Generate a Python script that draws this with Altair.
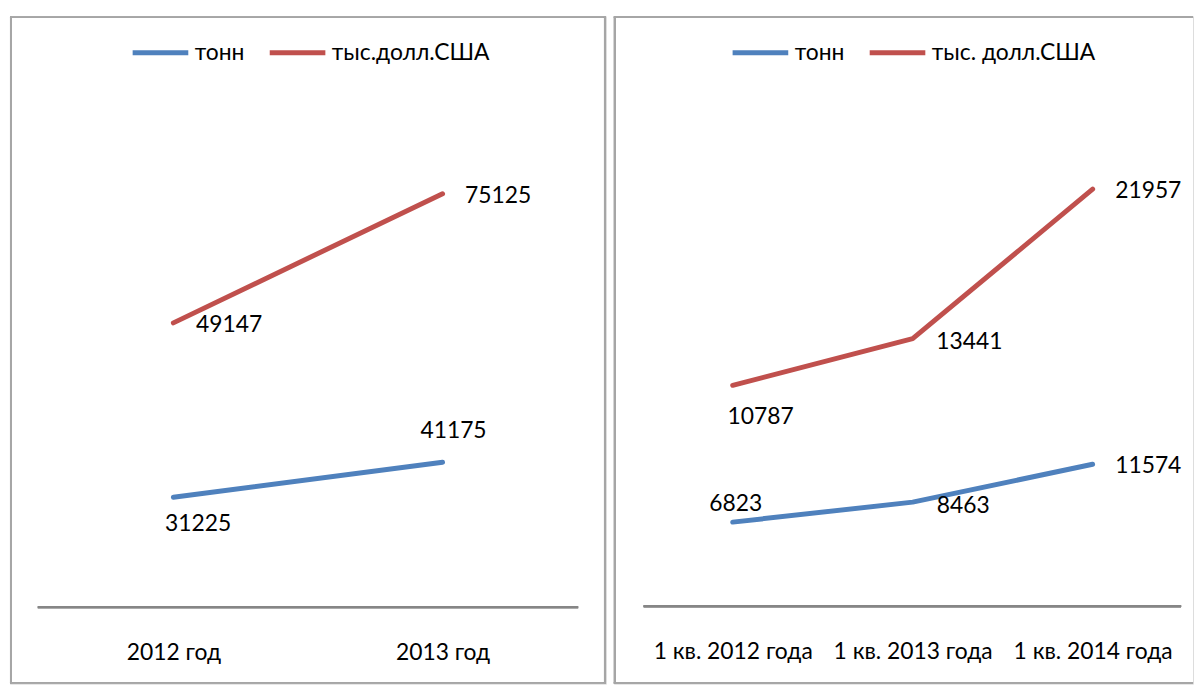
import altair as alt
import pandas as pd

# ---- data ----
left_categories = ["2012 год", "2013 год"]
left_tonn = [31225, 41175]
left_usd = [49147, 75125]
left_series = ["тонн", "тыс.долл.США"]

right_categories = ["1 кв. 2012 года", "1 кв. 2013 года", "1 кв. 2014 года"]
right_tonn = [6823, 8463, 11574]
right_usd = [10787, 13441, 21957]
right_series = ["тонн", "тыс. долл.США"]

BLUE = "#4F81BD"
RED = "#C0504D"
FONT = "Lato"
BORDER = "#a6a6a6"
H = 672


def panel(categories, tonn, usd, series, width, xscale, dom_t, dom_u,
          off_t, off_u, legend_x, legend_y, axis_y, axis_x0, axis_x1,
          right_border):
    n = len(categories)
    df = pd.DataFrame({
        "cat": categories * 2,
        "series": [series[0]] * n + [series[1]] * n,
        "value": tonn + usd,
        "idx": list(range(n)) * 2,
    })
    xenc = alt.X(
        "cat:N", sort=categories, scale=xscale,
        axis=alt.Axis(orient="bottom", offset=-(H - axis_y), domain=False,
                      ticks=False, tickSize=0, grid=False, labelAngle=0,
                      labelPadding=35, labelFont=FONT, labelFontSize=23,
                      labelColor="black", title=None, labelLimit=0),
    )
    color = alt.Color(
        "series:N",
        scale=alt.Scale(domain=series, range=[BLUE, RED]),
        legend=alt.Legend(orient="none", legendX=legend_x, legendY=legend_y,
                          direction="horizontal", title=None,
                          symbolType="stroke", symbolSize=3136,
                          symbolStrokeWidth=5, labelFont=FONT,
                          labelFontSize=23, labelColor="black",
                          labelOffset=4, columnPadding=14, padding=0,
                          labelLimit=400),
    )
    layers = []
    for s, dom, offs in ((series[0], dom_t, off_t), (series[1], dom_u, off_u)):
        yenc = alt.Y("value:Q", scale=alt.Scale(domain=dom, nice=False, zero=False),
                     axis=None)
        base = alt.Chart(df).transform_filter(alt.datum.series == s)
        layers.append(
            base.mark_line(strokeWidth=5, strokeCap="round", strokeJoin="round")
            .encode(x=xenc, y=yenc, color=color)
        )
        for j, (dx, dy) in enumerate(offs):
            layers.append(
                base.transform_filter(alt.datum.idx == j)
                .mark_text(dx=dx, dy=dy, align="center", baseline="middle",
                           font=FONT, fontSize=23, color="black")
                .encode(x=xenc, y=yenc, text=alt.Text("value:Q", format="d"))
            )
    # axis line and panel border (decoration)
    layers.append(alt.Chart(df).mark_rule(color="#868686", strokeWidth=2).encode(
        x=alt.value(axis_x0), x2=alt.value(axis_x1), y=alt.value(axis_y)))
    layers.append(alt.Chart(df).mark_rule(color=BORDER, strokeWidth=1.5).encode(
        x=alt.value(0), x2=alt.value(width), y=alt.value(1)))
    layers.append(alt.Chart(df).mark_rule(color=BORDER, strokeWidth=1.5).encode(
        x=alt.value(0), x2=alt.value(width), y=alt.value(H - 1)))
    layers.append(alt.Chart(df).mark_rule(color=BORDER, strokeWidth=2).encode(
        x=alt.value(1), y=alt.value(0), y2=alt.value(H)))
    if right_border:
        layers.append(alt.Chart(df).mark_rule(color=BORDER, strokeWidth=2).encode(
            x=alt.value(width - 1), y=alt.value(0), y2=alt.value(H)))
    return alt.layer(*layers).resolve_scale(y="independent").properties(
        width=width, height=H)


left = panel(
    left_categories, left_tonn, left_usd, left_series, 600,
    alt.Scale(type="point", padding=0.607),
    [-21714, 167790], [-23440, 110825],
    [(25, 27), (11, -31)], [(56, 2), (56, 2)],
    121, 6, 595, 28, 572, True,
)
right = panel(
    right_categories, right_tonn, right_usd, right_series, 583,
    alt.Scale(type="point", padding=0.609, align=0.542),
    [-6439, 48330], [-6213, 31809],
    [(3, -18), (51, 4), (56, 2)], [(28, 32), (57, 3), (56, 2)],
    117, 6, 594, 30, 571, False,
)

chart = alt.hconcat(left, right, spacing=4).resolve_scale(
    color="independent").resolve_legend(color="independent").properties(
    padding={"left": 0, "top": 4, "right": 0, "bottom": 0}
).configure_view(stroke=None).configure(background="white")

chart.save("out.html", embed_options={"renderer": "svg", "actions": False})
